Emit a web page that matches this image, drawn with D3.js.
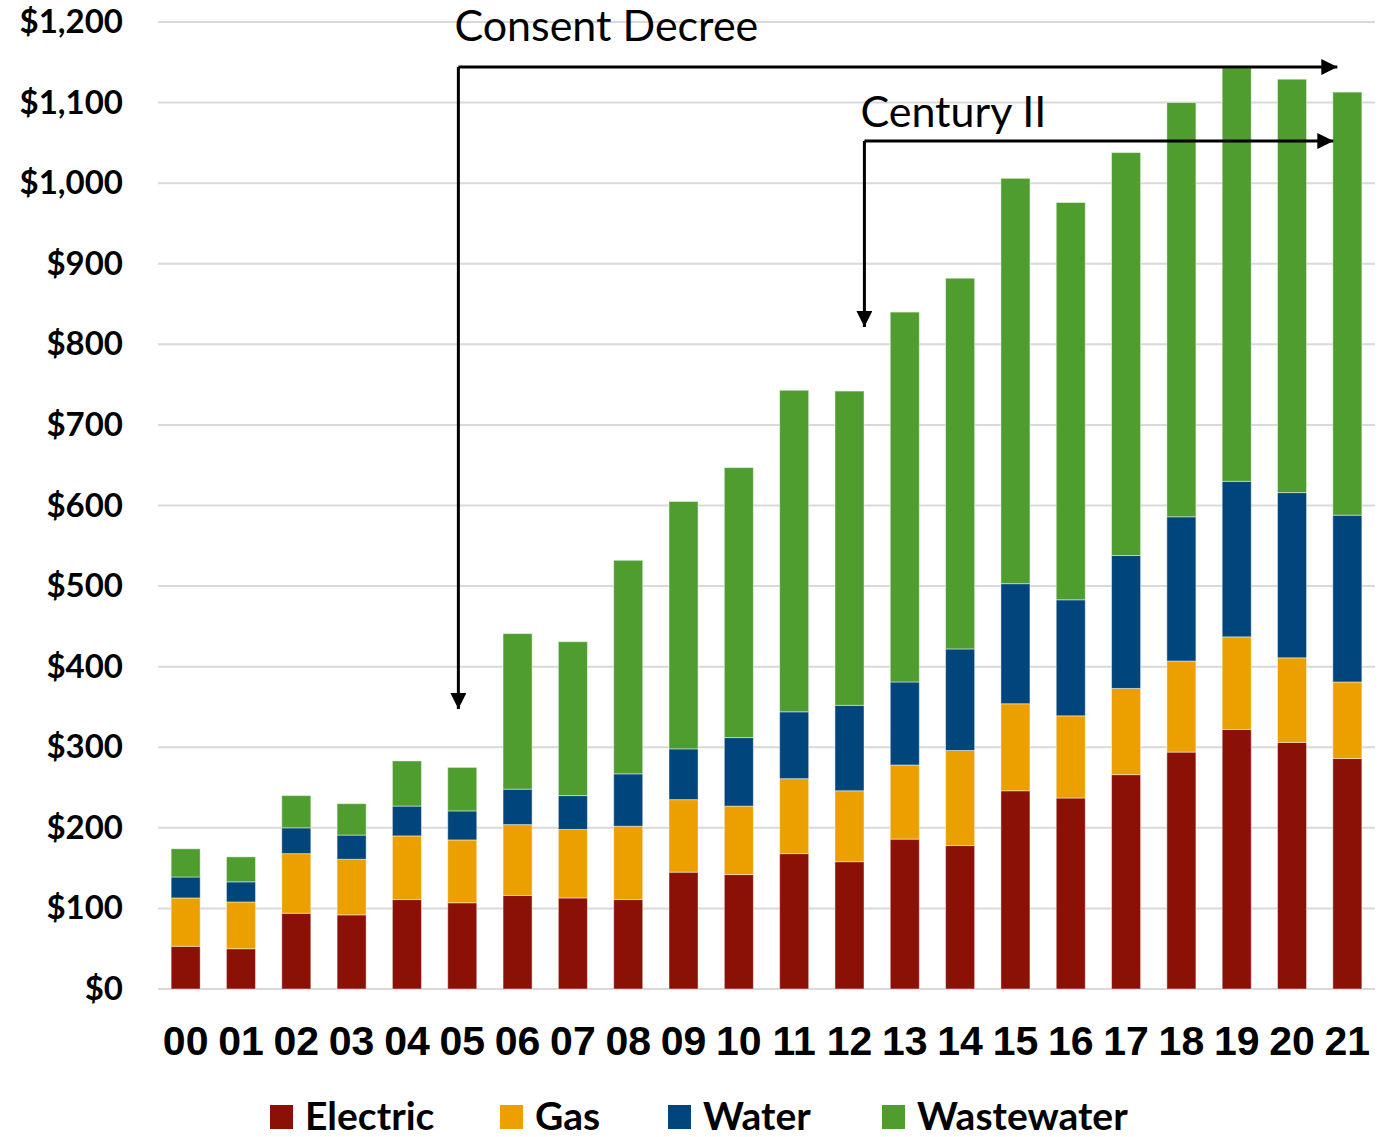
<!DOCTYPE html>
<html>
<head>
<meta charset="utf-8">
<script src="https://cdn.jsdelivr.net/npm/d3@7"></script>
<style>
  body { margin: 0; background: #fff; }
  svg { display: block; }
</style>
</head>
<body>
<div id="chart"></div>
<script>
// years along the bottom
var years = ['00','01','02','03','04','05','06','07','08','09','10',
             '11','12','13','14','15','16','17','18','19','20','21'];

// each utility's share, stacked
var electric   = [53, 50, 94, 92, 111, 107, 116, 113, 111, 145, 142, 168, 158, 186, 178, 246, 237, 266, 294, 322, 306, 286];
var gas        = [60, 58, 74, 69, 79, 78, 88, 85, 91, 90, 85, 93, 88, 92, 118, 108, 102, 107, 113, 115, 105, 95];
var water      = [26, 25, 32, 30, 37, 36, 44, 42, 65, 63, 85, 83, 106, 103, 126, 149, 144, 165, 179, 193, 205, 207];
var wastewater = [35, 31, 40, 39, 56, 54, 193, 191, 265, 307, 335, 399, 390, 459, 460, 503, 493, 500, 514, 513, 513, 525];

var seriesNames = ['Electric', 'Gas', 'Water', 'Wastewater'];
var colors = ['#8b1005', '#eba000', '#00457c', '#4f9c2f'];

var yTicks = [0, 100, 200, 300, 400, 500, 600, 700, 800, 900, 1000, 1100, 1200];

// annotations: start year (+ small nudge in bar steps), label
var consentStart = '05', consentNudge = -0.07;
var centuryStart = '12', centuryNudge = 0.27;

var W = 1386, H = 1137;
var margin = {top: 22, left: 158, right: 11, bottom: 148};

var svg = d3.select('#chart').append('svg')
  .attr('width', W)
  .attr('height', H);

var x = d3.scaleBand()
  .domain(years)
  .range([margin.left, W - margin.right])
  .paddingInner(0.475)
  .paddingOuter(0.2375);

var y = d3.scaleLinear()
  .domain([0, 1200])
  .range([989, margin.top]);

// gridlines
svg.append('g')
  .selectAll('line')
  .data(yTicks)
  .enter()
  .append('line')
  .attr('x1', margin.left)
  .attr('x2', W - margin.right)
  .attr('y1', function(d) { return y(d); })
  .attr('y2', function(d) { return y(d); })
  .style('stroke', '#d9d9d9')
  .style('stroke-width', 2);

// y labels
svg.append('g')
  .selectAll('text')
  .data(yTicks)
  .enter()
  .append('text')
  .attr('x', 123)
  .attr('y', function(d) { return y(d) + 11; })
  .attr('text-anchor', 'end')
  .style('font-family', 'Lato, sans-serif')
  .style('font-weight', 'bold')
  .style('font-size', '33px')
  .text(function(d) { return '$' + d3.format(',')(d); });

// stacked bars
var table = years.map(function(yr, i) {
  return {year: yr, Electric: electric[i], Gas: gas[i], Water: water[i], Wastewater: wastewater[i]};
});
var stack = d3.stack().keys(seriesNames)(table);

svg.append('g')
  .selectAll('g')
  .data(stack)
  .enter()
  .append('g')
  .style('fill', function(d, i) { return colors[i]; })
  .selectAll('rect')
  .data(function(d) { return d; })
  .enter()
  .append('rect')
  .attr('x', function(d) { return x(d.data.year); })
  .attr('width', x.bandwidth())
  .attr('y', function(d) { return y(d[1]); })
  .attr('height', function(d) { return y(d[0]) - y(d[1]); })
  .style('stroke', 'rgba(255,255,255,0.45)')
  .style('stroke-width', 1);

// x labels
svg.append('g')
  .selectAll('text')
  .data(years)
  .enter()
  .append('text')
  .attr('x', function(d) { return x(d) + x.bandwidth() / 2; })
  .attr('y', 1055)
  .attr('text-anchor', 'middle')
  .style('font-family', '"Liberation Sans", Arial, sans-serif')
  .style('font-weight', 'bold')
  .style('font-size', '41px')
  .text(function(d) { return d; });

// arrow marker
svg.append('defs').append('marker')
  .attr('id', 'arrow')
  .attr('viewBox', '0 0 10 10')
  .attr('refX', 10)
  .attr('refY', 5)
  .attr('markerWidth', 16)
  .attr('markerHeight', 16)
  .attr('markerUnits', 'userSpaceOnUse')
  .attr('orient', 'auto')
  .append('path')
  .attr('d', 'M0,0 L10,5 L0,10 Z')
  .style('fill', '#000');

function bracket(startYear, nudge, yLine, yDown, xEnd, label, labelY, fontSize) {
  var x0 = x(startYear) + x.bandwidth() / 2 + nudge * x.step();
  svg.append('path')
    .attr('d', 'M' + x0 + ',' + yLine + ' L' + x0 + ',' + yDown)
    .style('stroke', '#000').style('stroke-width', 3).style('fill', 'none')
    .attr('marker-end', 'url(#arrow)');
  svg.append('path')
    .attr('d', 'M' + x0 + ',' + yLine + ' L' + xEnd + ',' + yLine)
    .style('stroke', '#000').style('stroke-width', 3).style('fill', 'none')
    .attr('marker-end', 'url(#arrow)');
  svg.append('text')
    .attr('x', x0 - 4)
    .attr('y', labelY)
    .style('font-family', 'Lato, sans-serif')
    .style('font-size', fontSize + 'px')
    .text(label);
}

var xRight = x(years[years.length - 1]) + x.bandwidth() / 2;
bracket(consentStart, consentNudge, 67, 709, xRight - 10, 'Consent Decree', 41, 43);
bracket(centuryStart, centuryNudge, 141, 327, xRight - 14, 'Century II', 127, 43);

// legend
var legendX = [270, 500, 668, 882];
var legend = svg.append('g')
  .selectAll('g')
  .data(seriesNames)
  .enter()
  .append('g')
  .attr('transform', function(d, i) { return 'translate(' + legendX[i] + ',1105)'; });

legend.append('rect')
  .attr('width', 23)
  .attr('height', 24)
  .style('fill', function(d, i) { return colors[i]; });

legend.append('text')
  .attr('x', 35)
  .attr('y', 25)
  .style('font-family', 'Lato, sans-serif')
  .style('font-weight', 'bold')
  .style('font-size', '39px')
  .text(function(d) { return d; });
</script>
</body>
</html>
